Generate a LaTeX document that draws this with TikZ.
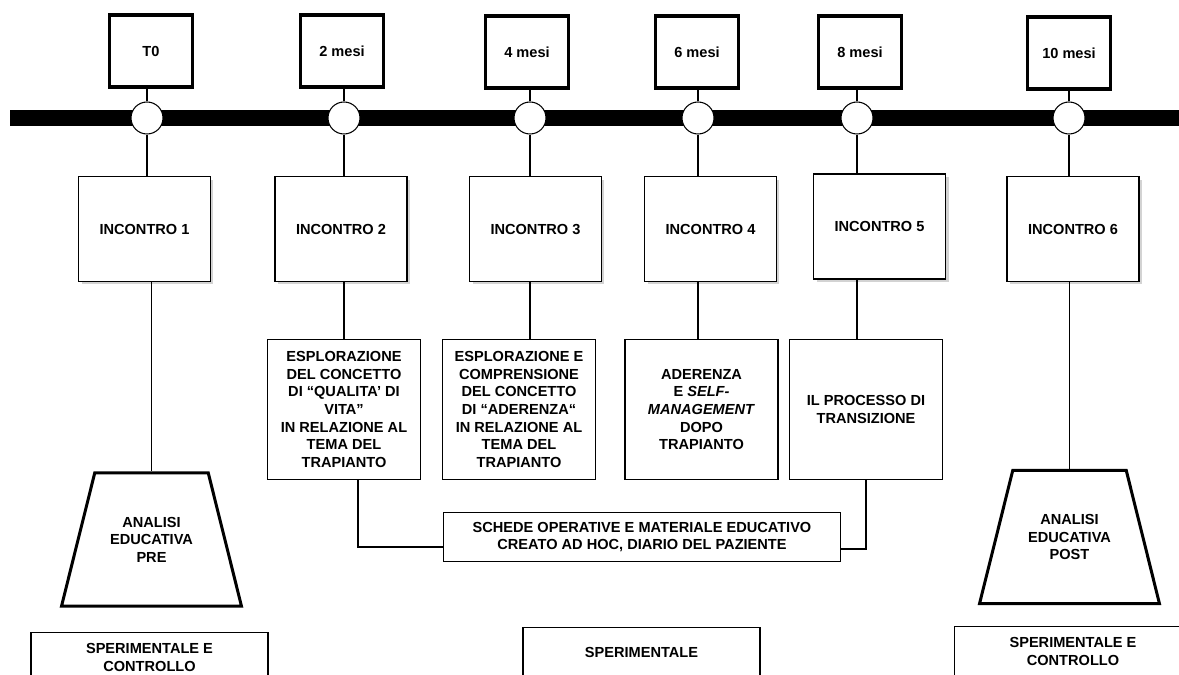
\documentclass[tikz,border=0pt]{standalone}
\usepackage{fontspec}
\setmainfont{Liberation Sans}
\usetikzlibrary{shapes.geometric, shadows}

\begin{document}
\begin{tikzpicture}[
  x=0.02cm, y=-0.02cm,
  font=\fontsize{8.3}{10}\selectfont\bfseries,
  timebox/.style={rectangle, draw, line width=1.8pt, minimum width=1.66cm, minimum height=1.44cm},
  milestone/.style={circle, draw, fill=white, line width=0.6pt, minimum size=0.64cm, inner sep=0pt},
  meeting/.style={rectangle, draw, fill=white, line width=0.75pt, minimum width=2.64cm, minimum height=2.1cm,
    drop shadow={shadow xshift=0.06cm, shadow yshift=-0.06cm, opacity=0.35}},
  topic/.style={rectangle, draw, line width=0.75pt, minimum width=3.06cm, minimum height=2.8cm, align=center},
  material/.style={rectangle, draw, line width=0.75pt, minimum width=7.94cm, minimum height=0.98cm, align=center},
  analysis/.style={trapezium, draw, line width=1.7pt, trapezium angle=76, trapezium stretches body,
    minimum width=3.6cm, inner ysep=0.88cm, align=center},
  groupbox/.style={rectangle, draw, line width=0.75pt, anchor=north, minimum width=4.74cm, align=center,
    inner ysep=0.22cm, text depth=0.6cm},
  link/.style={draw, line width=0.6pt}
]
\useasboundingbox (0,0) rectangle (1179,675);
\fill[black] (10,110) rectangle (1190,126);

\node[timebox] (t0) at (151,51) {T0};
\node[timebox] (t2) at (342,51) {2 mesi};
\node[timebox] (t4) at (527,52) {4 mesi};
\node[timebox] (t6) at (697,52) {6 mesi};
\node[timebox] (t8) at (860,52) {8 mesi};
\node[timebox] (t10) at (1069,53) {10 mesi};

\node[milestone] (m0) at (147,118) {};
\node[milestone] (m2) at (344,118) {};
\node[milestone] (m4) at (530,118) {};
\node[milestone] (m6) at (698,118) {};
\node[milestone] (m8) at (857,118) {};
\node[milestone] (m10) at (1069,118) {};

\node[meeting] (i1) at (144.5,229) {INCONTRO 1};
\node[meeting] (i2) at (341,229) {INCONTRO 2};
\node[meeting] (i3) at (535.5,229) {INCONTRO 3};
\node[meeting] (i4) at (710.5,229) {INCONTRO 4};
\node[meeting] (i5) at (879.5,226.5) {INCONTRO 5};
\node[meeting] (i6) at (1073,229) {INCONTRO 6};

\node[topic] (b2) at (344,409.5) {ESPLORAZIONE\\DEL CONCETTO\\DI “QUALITA’ DI\\VITA”\\IN RELAZIONE AL\\TEMA DEL\\TRAPIANTO};
\node[topic] (b3) at (519,409.5) {ESPLORAZIONE E\\COMPRENSIONE\\DEL CONCETTO\\DI “ADERENZA“\\IN RELAZIONE AL\\TEMA DEL\\TRAPIANTO};
\node[topic] (b4) at (701.5,409.5) {ADERENZA\\E \textit{SELF-}\\\textit{MANAGEMENT}\\DOPO\\TRAPIANTO};
\node[topic] (b5) at (866,409.5) {IL PROCESSO DI\\TRANSIZIONE};

\node[material] (sk) at (642,537) {SCHEDE OPERATIVE E MATERIALE EDUCATIVO\\CREATO AD HOC, DIARIO DEL PAZIENTE};

\node[analysis] (pre) at (151.5,539.5) {ANALISI\\EDUCATIVA\\PRE};
\node[analysis] (post) at (1069.5,537) {ANALISI\\EDUCATIVA\\POST};

\node[groupbox] (g1) at (149.5,632) {SPERIMENTALE E\\CONTROLLO};
\node[groupbox, inner ysep=0.4cm] (g2) at (641.5,627) {SPERIMENTALE};
\node[groupbox] (g3) at (1073,626) {SPERIMENTALE E\\CONTROLLO};

\draw[link] (m0) -- (m0 |- t0.south);
\draw[link] (m2) -- (m2 |- t2.south);
\draw[link] (m4) -- (m4 |- t4.south);
\draw[link] (m6) -- (m6 |- t6.south);
\draw[link] (m8) -- (m8 |- t8.south);
\draw[link] (m10) -- (m10 |- t10.south);
\draw[link] (m0) -- (m0 |- i1.north);
\draw[link] (m2) -- (m2 |- i2.north);
\draw[link] (m4) -- (m4 |- i3.north);
\draw[link] (m6) -- (m6 |- i4.north);
\draw[link] (m8) -- (m8 |- i5.north);
\draw[link] (m10) -- (m10 |- i6.north);
\draw[link] (i1.south -| pre.north) -- (pre.north);
\draw[link] (i2.south -| m2) -- (b2.north -| m2);
\draw[link] (i3.south -| m4) -- (b3.north -| m4);
\draw[link] (i4.south -| m6) -- (b4.north -| m6);
\draw[link] (i5.south -| m8) -- (b5.north -| m8);
\draw[link] (i6.south -| post.north) -- (post.north);
\draw[link] ([xshift=0.28cm]b2.south) |- ([yshift=-0.2cm]sk.west);
\draw[link] (b5.south) |- ([yshift=-0.24cm]sk.east);
\end{tikzpicture}
\end{document}
